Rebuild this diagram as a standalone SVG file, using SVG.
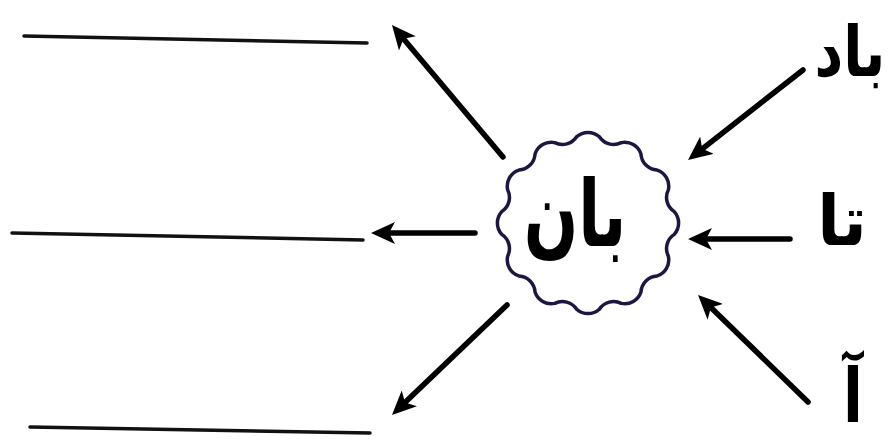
<svg xmlns="http://www.w3.org/2000/svg" width="888" height="439" viewBox="0 0 888 439">
<style>
.lbl{font-family:"DejaVu Sans","Noto Sans",sans-serif;font-weight:bold;fill:#000;text-anchor:middle}
.arr{stroke:#000;stroke-width:5.5;stroke-linecap:round;fill:none;marker-end:url(#ah)}
.blank{stroke:#111;stroke-width:3.5;stroke-linecap:round}
</style>
<defs>
<marker id="ah" viewBox="0 0 24 22" refX="14" refY="11" markerWidth="24" markerHeight="22" markerUnits="userSpaceOnUse" orient="auto">
<path d="M0,0 L24,11 L0,22 L6,11 Z" fill="#000"/>
</marker>
</defs>
<rect width="888" height="439" fill="#fff"/>
<g id="blanks">
<line class="blank" x1="24" y1="36" x2="367" y2="43"/>
<line class="blank" x1="12" y1="233" x2="363" y2="240"/>
<line class="blank" x1="30" y1="427" x2="370" y2="433" stroke="#444"/>
</g>
<g id="center">
<path d="M674.26,211.64 A17,17 0 0 1 674.26,234.36 A17,17 0 0 0 668.38,256.29 A17,17 0 0 1 657.02,275.96 A17,17 0 0 0 640.96,292.02 A17,17 0 0 1 621.29,303.38 A17,17 0 0 0 599.36,309.26 A17,17 0 0 1 576.64,309.26 A17,17 0 0 0 554.71,303.38 A17,17 0 0 1 535.04,292.02 A17,17 0 0 0 518.98,275.96 A17,17 0 0 1 507.62,256.29 A17,17 0 0 0 501.74,234.36 A17,17 0 0 1 501.74,211.64 A17,17 0 0 0 507.62,189.71 A17,17 0 0 1 518.98,170.04 A17,17 0 0 0 535.04,153.98 A17,17 0 0 1 554.71,142.62 A17,17 0 0 0 576.64,136.74 A17,17 0 0 1 599.36,136.74 A17,17 0 0 0 621.29,142.62 A17,17 0 0 1 640.96,153.98 A17,17 0 0 0 657.02,170.04 A17,17 0 0 1 668.38,189.71 A17,17 0 0 0 674.26,211.64 Z" fill="#fff" stroke="#1c1640" stroke-width="3.5"/>
<text class="lbl" font-size="64" transform="translate(575,246) scale(1,1.45)">بان</text>
</g>
<g id="label-bad"><text class="lbl" font-size="56" transform="translate(850,76) scale(1,1.25)">باد</text></g>
<g id="label-ta"><text class="lbl" font-size="66" transform="translate(842,245) scale(1,1.05)">تا</text></g>
<g id="label-a"><text class="lbl" font-size="58" transform="translate(853,422) scale(1,1.3)">آ</text></g>
<g id="connectors">
<line class="arr" x1="503" y1="157" x2="398.4" y2="32.7"/>
<line class="arr" x1="475" y1="233" x2="381" y2="233"/>
<line class="arr" x1="507" y1="305" x2="399.2" y2="408.1"/>
<line class="arr" x1="803" y1="70" x2="695.9" y2="153.8"/>
<line class="arr" x1="790" y1="239" x2="698" y2="239"/>
<line class="arr" x1="808" y1="402" x2="705.2" y2="302"/>
</g>
</svg>
